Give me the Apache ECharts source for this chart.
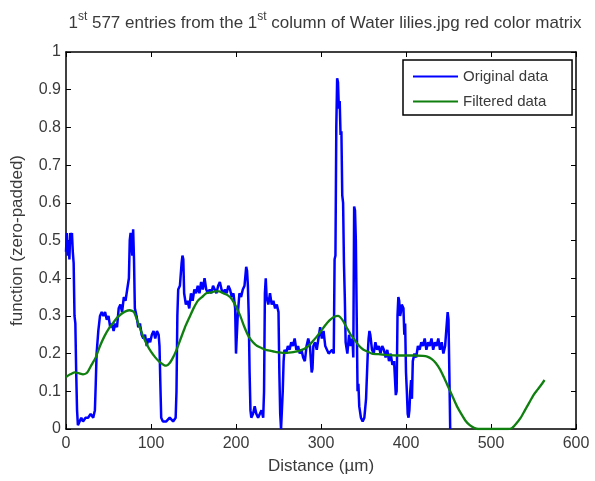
<!DOCTYPE html>
<html>
<head>
<meta charset="utf-8">
<script src="https://cdn.jsdelivr.net/npm/echarts@6/dist/echarts.min.js"></script>
<style>
  html, body { margin: 0; padding: 0; background: #fff; }
  #chart { width: 595px; height: 481px; }
</style>
</head>
<body>
<div id="chart"></div>
<script>
// original (blue) samples
const origX = [
  0, 1, 2, 3, 4, 5, 6, 7, 8, 9, 10, 11, 12, 13, 14, 16, 18, 20, 23, 26, 29, 32, 34, 35, 36, 38,
  40, 42, 44, 46, 48, 50, 52, 54, 56, 58, 60, 62, 64, 66, 68, 70, 72, 74, 75, 76, 78, 79, 80, 81,
  83, 85, 87, 89, 91, 93, 95, 97, 99, 101, 103, 105, 107, 109, 110, 111, 112, 114, 118, 122, 126,
  129, 130, 131, 132, 134, 136, 137, 138, 139, 141, 143, 145, 147, 149, 151, 153, 155, 157, 159,
  161, 163, 165, 167, 169, 171, 173, 175, 177, 179, 181, 183, 185, 187, 189, 191, 193, 195, 197,
  199, 200, 201, 202, 204, 206, 208, 210, 212, 213, 214, 215, 216, 217, 218, 220, 222, 224, 226,
  228, 230, 232, 233, 234, 235, 236, 238, 240, 242, 244, 246, 248, 250, 251, 252, 253, 254, 255,
  256, 257, 259, 261, 263, 265, 267, 269, 271, 273, 275, 277, 279, 281, 283, 285, 287, 289, 290,
  291, 293, 295, 297, 299, 301, 303, 305, 307, 309, 311, 313, 315, 316, 317, 318, 319, 320, 321,
  322, 323, 324, 325, 326, 327, 328, 329, 331, 333, 335, 337, 338, 339, 340, 341, 342, 343, 344,
  345, 347, 349, 351, 353, 355, 356, 357, 358, 360, 362, 364, 366, 368, 370, 372, 374, 376, 378,
  380, 382, 384, 386, 388, 389, 390, 391, 392, 393, 394, 395, 396, 397, 398, 399, 400, 401, 402,
  403, 404, 405, 406, 407, 408, 410, 412, 414, 416, 418, 420, 422, 424, 426, 428, 430, 432, 434,
  436, 438, 440, 442, 444, 446, 448, 449, 450, 451, 452
];
const origY = [
  0.47, 0.52, 0.46, 0.50, 0.45, 0.52, 0.50, 0.52, 0.47, 0.44, 0.30, 0.28, 0.15, 0.05, 0.01, 0.02, 0.03, 0.02, 0.03, 0.03, 0.04, 0.03, 0.05, 0.12, 0.20, 0.26,
  0.30, 0.31, 0.30, 0.31, 0.29, 0.30, 0.27, 0.28, 0.26, 0.28, 0.27, 0.32, 0.33, 0.31, 0.35, 0.34, 0.37, 0.40, 0.50, 0.52, 0.46, 0.53, 0.45, 0.32,
  0.30, 0.27, 0.28, 0.25, 0.24, 0.25, 0.22, 0.24, 0.23, 0.25, 0.26, 0.24, 0.26, 0.25, 0.22, 0.12, 0.03, 0.02, 0.02, 0.03, 0.02,
  0.03, 0.10, 0.30, 0.37, 0.38, 0.44, 0.46, 0.45, 0.36, 0.33, 0.34, 0.32, 0.36, 0.34, 0.37, 0.36, 0.38, 0.36, 0.39,
  0.37, 0.40, 0.37, 0.36, 0.37, 0.36, 0.38, 0.37, 0.36, 0.38, 0.39, 0.37, 0.36, 0.37, 0.36, 0.38, 0.37, 0.35, 0.36,
  0.32, 0.20, 0.20, 0.30, 0.36, 0.35, 0.37, 0.38, 0.43, 0.42, 0.38, 0.30, 0.15, 0.05, 0.03, 0.04, 0.06, 0.04, 0.03,
  0.04, 0.05, 0.03, 0.10, 0.36, 0.40, 0.35, 0.33, 0.36, 0.33, 0.34, 0.32, 0.33, 0.31, 0.15, 0.04, 0.00, 0.00, 0.10,
  0.18, 0.21, 0.20, 0.22, 0.21, 0.23, 0.22, 0.24, 0.21, 0.22, 0.20, 0.21, 0.19, 0.18, 0.22, 0.24, 0.22, 0.15, 0.16,
  0.22, 0.23, 0.21, 0.24, 0.27, 0.24, 0.26, 0.22, 0.21, 0.20, 0.20, 0.21, 0.20, 0.45, 0.46, 0.80, 0.93, 0.92, 0.85,
  0.87, 0.78, 0.79, 0.62, 0.60, 0.44, 0.35, 0.23, 0.20, 0.25, 0.22, 0.24, 0.19, 0.59, 0.58, 0.50, 0.30, 0.10, 0.12,
  0.06, 0.03, 0.02, 0.03, 0.08, 0.20, 0.24, 0.26, 0.25, 0.21, 0.20, 0.23, 0.21, 0.22, 0.20, 0.22, 0.21, 0.19, 0.21,
  0.18, 0.20, 0.17, 0.18, 0.09, 0.10, 0.30, 0.35, 0.34, 0.30, 0.31, 0.33, 0.33, 0.32, 0.25, 0.28, 0.15, 0.10, 0.04,
  0.03, 0.05, 0.10, 0.13, 0.08, 0.18, 0.20, 0.19, 0.22, 0.21, 0.23, 0.22, 0.24, 0.21, 0.23, 0.22, 0.24, 0.21, 0.23,
  0.22, 0.24, 0.21, 0.23, 0.20, 0.22, 0.28, 0.31, 0.29, 0.15, 0.00
];

// filtered (green) samples
const filtX = [
  0, 5, 10, 15, 20, 25, 30, 35, 40, 45, 50, 55, 60, 65, 70, 75, 80, 85, 90, 95, 100, 105, 110, 115,
  118, 122, 126, 130, 135, 140, 145, 150, 155, 160, 165, 170, 175, 180, 185, 190, 195, 200, 205,
  210, 215, 220, 225, 230, 235, 240, 245, 250, 255, 260, 265, 270, 275, 280, 285, 290, 295, 300,
  305, 310, 315, 320, 325, 330, 335, 340, 345, 350, 355, 360, 370, 380, 390, 400, 410, 420, 425,
  430, 435, 440, 445, 450, 455, 460, 465, 470, 475, 480, 485, 490, 500, 510, 520, 525, 530, 535,
  540, 545, 550, 555, 560, 563
];
const filtY = [
  0.138, 0.145, 0.15, 0.148, 0.145, 0.15, 0.17, 0.19, 0.22, 0.245, 0.265, 0.28, 0.295, 0.305, 0.312, 0.315, 0.31, 0.28, 0.25, 0.225, 0.205, 0.19, 0.178, 0.17,
  0.168, 0.175, 0.19, 0.21, 0.24, 0.27, 0.295, 0.32, 0.34, 0.35, 0.36, 0.362, 0.365, 0.365, 0.36, 0.355, 0.345, 0.325, 0.30,
  0.27, 0.245, 0.23, 0.22, 0.215, 0.21, 0.208, 0.205, 0.203, 0.202, 0.202, 0.203, 0.205, 0.208, 0.212, 0.22, 0.232, 0.245, 0.26,
  0.275, 0.288, 0.297, 0.30, 0.29, 0.27, 0.25, 0.235, 0.22, 0.21, 0.205, 0.20, 0.198, 0.196, 0.195, 0.195, 0.195, 0.194, 0.192,
  0.186, 0.175, 0.158, 0.135, 0.11, 0.085, 0.06, 0.04, 0.022, 0.01, 0.003, 0, 0, 0, 0, 0, 0.003, 0.015, 0.03,
  0.05, 0.07, 0.09, 0.105, 0.12, 0.13
];

const xTicks = [0, 100, 200, 300, 400, 500, 600];
const yTicks = [0, 0.1, 0.2, 0.3, 0.4, 0.5, 0.6, 0.7, 0.8, 0.9, 1];

const FONT = 'Liberation Sans';
const pair = (xs, ys) => xs.map((x, i) => [x, ys[i]]);

const chart = echarts.init(document.getElementById('chart'), null, { renderer: 'canvas' });

const tick = () => ({ show: true, inside: true, length: 5, lineStyle: { color: '#000', width: 1 } });
const axLine = () => ({ show: true, onZero: false, lineStyle: { color: '#000', width: 1.5 } });
const labelStyle = { color: '#3a3a3a', fontFamily: FONT, fontSize: 16 };
const nameStyle = { fontFamily: FONT, fontSize: 17, color: '#3a3a3a' };

chart.setOption({
  animation: false,
  backgroundColor: '#fff',
  title: {
    text: '{n|1}{s|st}{n| 577 entries from the 1}{s|st}{n| column of Water lilies.jpg red color matrix}',
    left: 320,
    top: 6,
    textAlign: 'center',
    textStyle: {
      fontWeight: 'normal',
      rich: {
        n: { fontFamily: FONT, fontSize: 17, fontWeight: 'normal', color: '#3a3a3a', lineHeight: 21, verticalAlign: 'bottom' },
        s: { fontFamily: FONT, fontSize: 12, fontWeight: 'normal', color: '#3a3a3a', lineHeight: 12, verticalAlign: 'top' }
      }
    }
  },
  legend: {
    orient: 'vertical',
    left: 403,
    top: 60,
    itemWidth: 45,
    itemHeight: 2,
    itemGap: 10,
    padding: [9, 24, 6, 10],
    borderColor: '#000',
    borderWidth: 1.5,
    borderRadius: 0,
    backgroundColor: '#fff',
    icon: 'rect',
    textStyle: { fontFamily: FONT, fontSize: 15, color: '#3a3a3a' },
    data: ['Original data', 'Filtered data']
  },
  grid: { left: 66, right: 19, top: 52, bottom: 52, containLabel: false },
  xAxis: [
    {
      type: 'value', min: 0, max: 600, interval: 100,
      name: 'Distance (µm)', nameLocation: 'middle', nameGap: 29,
      nameTextStyle: nameStyle,
      axisLine: axLine(), axisTick: tick(),
      axisLabel: Object.assign({ margin: 7, formatter: v => xTicks.includes(v) ? String(v) : '' }, labelStyle),
      splitLine: { show: false }
    },
    {
      type: 'value', min: 0, max: 600, interval: 100, position: 'top',
      axisLine: axLine(), axisTick: tick(), axisLabel: { show: false }, splitLine: { show: false }
    }
  ],
  yAxis: [
    {
      type: 'value', min: 0, max: 1, interval: 0.1,
      name: 'function (zero-padded)', nameLocation: 'middle', nameGap: 40,
      nameTextStyle: nameStyle,
      axisLine: axLine(), axisTick: tick(),
      axisLabel: Object.assign({ margin: 5, formatter: v => String(yTicks[Math.round(v * 10)]) }, labelStyle),
      splitLine: { show: false }
    },
    {
      type: 'value', min: 0, max: 1, interval: 0.1, position: 'right',
      axisLine: axLine(), axisTick: tick(), axisLabel: { show: false }, splitLine: { show: false }
    }
  ],
  series: [
    {
      name: 'Original data', type: 'line', showSymbol: false, symbol: 'none',
      data: pair(origX, origY),
      lineStyle: { color: '#0000ff', width: 2.5 }, itemStyle: { color: '#0000ff' }
    },
    {
      name: 'Filtered data', type: 'line', showSymbol: false, symbol: 'none', smooth: 0.2,
      data: pair(filtX, filtY),
      lineStyle: { color: '#0f7f0f', width: 2.3 }, itemStyle: { color: '#0f7f0f' }
    }
  ]
});
</script>
</body>
</html>
